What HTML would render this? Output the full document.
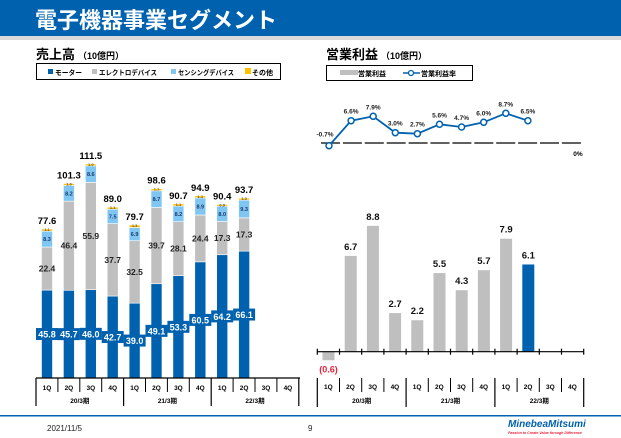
<!DOCTYPE html>
<html><head><meta charset="utf-8"><style>
body{margin:0;background:#fff;width:621px;height:438px;overflow:hidden}
svg{display:block;font-family:"Liberation Sans","Noto Sans CJK JP",sans-serif}
</style></head><body>
<svg id="s" width="621" height="438" viewBox="0 0 621 438" xmlns="http://www.w3.org/2000/svg">
<rect x="0" y="0" width="621" height="36" fill="#0062ae"/>
<rect x="0" y="36" width="621" height="4" fill="#d9d9d9"/>
<text x="35" y="28" font-size="22" font-weight="bold" fill="#fff">電子機器事業セグメント</text>
<text x="36" y="59" font-size="13" font-weight="bold" fill="#000">売上高<tspan font-size="9" dx="3">（10億円）</tspan></text>
<rect x="36.5" y="63.5" width="244" height="16" fill="#fff" stroke="#000" stroke-width="1"/>
<rect x="48" y="69" width="5" height="5" fill="#0062ae"/><text x="55" y="75" font-size="7" font-weight="bold" textLength="27" lengthAdjust="spacingAndGlyphs">モーター</text>
<rect x="92" y="69" width="5" height="5" fill="#bfbfbf"/><text x="99" y="75" font-size="7" font-weight="bold" textLength="58" lengthAdjust="spacingAndGlyphs">エレクトロデバイス</text>
<rect x="171" y="69" width="5" height="5" fill="#7fc6f3"/><text x="178" y="75" font-size="7" font-weight="bold" textLength="56" lengthAdjust="spacingAndGlyphs">センシングデバイス</text>
<rect x="245" y="68" width="6" height="6" fill="#ffc000"/><text x="252" y="75" font-size="7" font-weight="bold" textLength="21" lengthAdjust="spacingAndGlyphs">その他</text>
<text x="326" y="59" font-size="13" font-weight="bold">営業利益<tspan font-size="9" dx="3">（10億円）</tspan></text>
<rect x="326.5" y="65.5" width="146" height="15" fill="#fff" stroke="#000"/>
<rect x="340" y="70" width="18" height="5" fill="#bfbfbf"/><text x="358" y="76" font-size="7" font-weight="bold">営業利益</text>
<line x1="403" y1="73" x2="420" y2="73" stroke="#0062ae" stroke-width="1.5"/><circle cx="411" cy="73" r="2.5" fill="#fff" stroke="#0062ae" stroke-width="1.3"/>
<text x="421" y="76" font-size="7" font-weight="bold">営業利益率</text>
<rect x="0" y="415" width="621" height="1.5" fill="#0062ae"/>
<text x="47" y="431" font-size="8" fill="#222">2021/11/5</text>
<text x="308" y="431" font-size="8" fill="#222">9</text>
<text x="508" y="427" font-size="10" font-weight="bold" font-style="italic" fill="#0062ae">MinebeaMitsumi</text>
<text x="508" y="434" font-size="3.6" font-style="italic" font-weight="bold" fill="#e8213b">Passion to Create Value through Difference</text>
<g id="g"></g>
</svg>
<script>
var g=document.getElementById('g'),h='';
function R(x,y,w,hh,c,e){h+='<rect x="'+x+'" y="'+y+'" width="'+w+'" height="'+hh+'" fill="'+c+'" '+(e||'')+'/>';}
function T(x,y,t,s,c,a){h+='<text x="'+x+'" y="'+y+'" font-size="'+s+'" font-weight="bold" fill="'+(c||'#000')+'" text-anchor="'+(a||'middle')+'">'+t+'</text>';}
function L(a,b,c,d,w){h+='<line x1="'+a+'" y1="'+b+'" x2="'+c+'" y2="'+d+'" stroke="#000" stroke-width="'+(w||1.2)+'"/>';}
var D=[[45.8,22.4,8.3,1.1,77.6],[45.7,46.4,8.2,1.0,101.3],[46.0,55.9,8.6,1.0,111.5],[42.7,37.7,7.5,1.1,89.0],[39.0,32.5,6.9,1.3,79.7],[49.1,39.7,8.7,1.1,98.6],[53.3,28.1,8.2,1.1,90.7],[60.5,24.4,8.9,1.1,94.9],[64.2,17.3,8.0,0.9,90.4],[66.1,17.3,9.3,1.0,93.7]];
var B=378,k=1.92,cols=['#0062ae','#bfbfbf','#7fc6f3','#ffc000'];
D.forEach(function(d,i){var cx=47+i*21.9,y=B;var tops=[];
for(var j=0;j<4;j++){var hh=d[j]*k;y-=hh;R(cx-5.5,y,11,hh,cols[j],'stroke="#fff" stroke-width="0.6"');tops.push([y,hh]);}
T(cx,y-5,d[4].toFixed(1),9.5);
T(cx,tops[1][0]+tops[1][1]/2+3,d[1].toFixed(1),8.5,'#222');
T(cx,tops[2][0]+tops[2][1]/2+2,d[2].toFixed(1),5.5,'#1a3a6a');
T(cx,tops[3][0]+2,d[3].toFixed(1),4,'#555');});
D.forEach(function(d,i){var cx=47+i*21.9,m=B-d[0]*k/2;R(cx-11,m-6,22,12,'#0062ae');T(cx,m+3.5,d[0].toFixed(1),9,'#fff');});
L(36,B,300,B);var qs=['1Q','2Q','3Q','4Q'],yrs=['20/3期','21/3期','22/3期'];
for(var i=0;i<=12;i++){var x=36+i*21.9;if(i%4==0)L(x,B,x,406);else L(x,B,x,392,1);
if(i<12)T(x+11,390,qs[i%4],6.5,'#000');}
for(var i=0;i<3;i++)T(36+i*87.6+43.8,403,yrs[i],6.5);
for(var i=0;i<12;i++){L(321+i*21.9,143,321+i*21.9+19,143,1.2);}
T(578,156,'0%',6.5,'#000','middle');
var pv=[-0.7,6.6,7.9,3.0,2.7,5.6,4.7,6.0,8.7,6.5],py=[145.7,120.7,116.3,132.7,133.7,124.3,127,122.3,113.3,120.7];
var pts=pv.map(function(v,i){return (329+i*22.1)+','+py[i];}).join(' ');
h+='<polyline points="'+pts+'" fill="none" stroke="#0062ae" stroke-width="1.8"/>';
pv.forEach(function(v,i){var x=329+i*22.1;h+='<circle cx="'+x+'" cy="'+py[i]+'" r="3" fill="#fff" stroke="#0062ae" stroke-width="1.5"/>';
var lx=i==0?x-4:x,ly=i==0?py[i]-9:py[i]-7;T(lx,ly,v.toFixed(1)+'%',6.5,'#222');});
var rv=[-0.6,6.7,8.8,2.7,2.2,5.5,4.3,5.7,7.9,6.1],RB=351.7,rk=14.3;
rv.forEach(function(v,i){var cx=328.5+i*22.2,hh=Math.abs(v)*rk;
if(v<0){R(cx-6,RB,12,hh,'#bfbfbf');T(cx,RB+hh+12,'(0.6)',9,'#e8213b');}
else{R(cx-6,RB-hh,12,hh,i==9?'#0062ae':'#bfbfbf');T(cx,RB-hh-6,v.toFixed(1),9.5,'#111');}});
L(317,RB,584,RB);
for(var i=0;i<=12;i++){var x=317.3+i*22.2;L(x,RB-3,x,RB+3,1.2);
if(i%4==0)L(x,378,x,407);else L(x,378,x,392,1);if(i<12)T(x+11,389,qs[i%4],6.5);}
for(var i=0;i<3;i++)T(317.3+i*88.8+44.4,403,yrs[i],6.5);
g.innerHTML=h;
</script>
</body></html>
